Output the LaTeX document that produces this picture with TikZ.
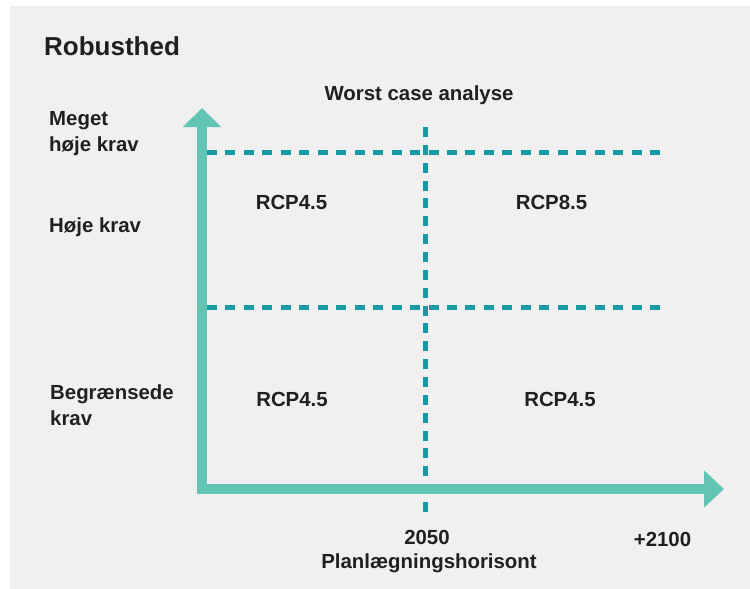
\documentclass[tikz,border=0pt]{standalone}
\usepackage{fontspec}
\setmainfont{Liberation Sans}
\usetikzlibrary{arrows.meta}
\definecolor{axisgreen}{HTML}{62C4B2}
\definecolor{guideteal}{HTML}{179AA3}
\definecolor{panelgray}{HTML}{F0F0F0}
\definecolor{textdark}{HTML}{231F20}

\begin{document}
\begin{tikzpicture}[x=1pt,y=-1pt]
                \tikzstyle{label}=[inner sep=0pt, text=textdark, font=\bfseries\fontsize{20.4}{26}\selectfont]
                \tikzstyle{ylabel}=[label, anchor=base west, align=left]
                \tikzstyle{cell}=[label, anchor=base]
                \tikzstyle{hguide}=[guideteal, line width=5pt, dash pattern=on 10pt off 8.46pt]
                \tikzstyle{vguide}=[guideteal, line width=5.5pt, dash pattern=on 10pt off 7.86pt]
                \tikzstyle{axis}=[axisgreen, line width=10pt, line join=miter,
                        {Triangle[length=19pt,width=37pt]}-{Triangle[length=20pt,width=36pt]}]
                \useasboundingbox (0,0) rectangle (750,589);
                \fill[panelgray] (10,6) rectangle (750,589);
                % texts
                \node[label, anchor=base west, font=\bfseries\fontsize{26}{30}\selectfont] (title) at (44,55){Robusthed};
                \node[cell] (worst) at (419,100){Worst case analyse};
                \node[ylabel] (meget) at (49,151){Meget\\høje krav};
                \node[ylabel] (hoje) at (49,232){Høje krav};
                \node[ylabel] (begr) at (50,425){Begrænsede\\krav};
                \node[cell] (c11) at (291.5,209){RCP4.5};
                \node[cell] (c12) at (551.5,209){RCP8.5};
                \node[cell] (c21) at (292,406){RCP4.5};
                \node[cell] (c22) at (560,406){RCP4.5};
                \node[cell] (y2050) at (427,544){2050};
                \node[cell] (horizon) at (429,568){Planlægningshorisont};
                \node[cell] (y2100) at (662.5,546.5){+2100};
                % grid
                \coordinate (h1l) at (207,152.5);
                \coordinate (h1r) at (660,152.5);
                \coordinate (h2l) at (207,307);
                \coordinate (h2r) at (660,307);
                \coordinate (vt) at (425.5,127);
                \coordinate (vb) at (425.5,512);
                \path[-] (h1l) edge [hguide] (h1r);
                \path[-] (h2l) edge [hguide] (h2r);
                \path[-] (vt) edge [vguide] (vb);
                % axes
                \coordinate (ytop) at (202,108);
                \coordinate (origin) at (202,489);
                \coordinate (xend) at (724,489);
                \draw[axis] (ytop) -- (origin) -- (xend);
\end{tikzpicture}
\end{document}
